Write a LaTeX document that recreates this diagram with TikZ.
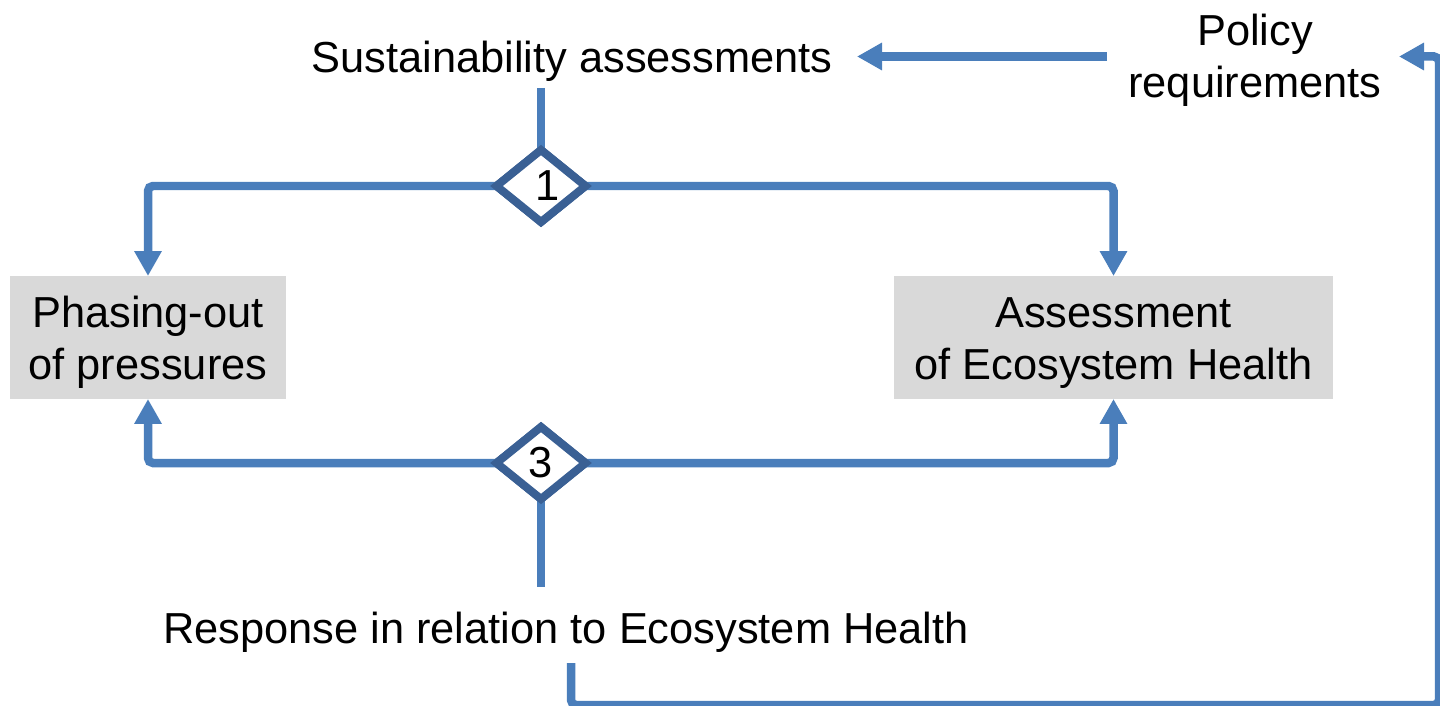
\documentclass[tikz,border=0pt]{standalone}
\usepackage{fontspec}
\setmainfont{Liberation Sans}
\usetikzlibrary{arrows.meta,shapes.geometric}
\definecolor{lineblue}{HTML}{4A7EBB}
\definecolor{darkblue}{HTML}{3A6094}
\definecolor{boxgray}{HTML}{D9D9D9}
\begin{document}
\begin{tikzpicture}[x=0.02cm,y=-0.02cm,
  lbl/.style={font=\fontsize{24.7pt}{29.6pt}\selectfont, inner sep=0pt, outer sep=0pt, align=center, text=black},
  graybox/.style={lbl, fill=boxgray, minimum height=2.46cm},
  dia/.style={lbl, diamond, draw=darkblue, line width=0.16cm, fill=white, minimum width=1.78cm, minimum height=1.44cm},
  conn/.style={draw=lineblue, line width=0.17cm, rounded corners=0.1cm},
  arr/.style={conn, -{Triangle[width=0.52cm,length=0.5cm]}}]
\useasboundingbox (0,0) rectangle (1440,706);
\clip (0,0) rectangle (1440,706);

% text labels
\node[lbl, anchor=base] (sust) at (572,73) {Sustainability assessments};
\node[lbl] (policy) at (1255,60.5) {Policy\\requirements};
\node[lbl, anchor=base] (resp) at (566,643) {Response in relation to Ecosystem Health};

% boxes
\node[graybox, minimum width=5.52cm] (phase) at (148,337.5) {\rule{0pt}{0.834cm}Phasing-out\\of pressures};
\node[graybox, minimum width=8.78cm] (assess) at (1113.5,337.5) {\rule{0pt}{0.834cm}Assessment\\of Ecosystem Health};

% diamonds
\node[dia] (d1) at (541,186) {\hspace{0.26cm}\raisebox{-0.08cm}{1}};
\node[dia] (d3) at (541,463) {3};

% free ends
\coordinate (s1) at (541,88);
\coordinate (r1) at (541,587);
\coordinate (r2) at (571,663);
\coordinate (c1) at (1439,705);
\coordinate (pin) at (1399,56.5);
\coordinate (p1) at (1107,56.5);
\coordinate (s2) at (857,56.5);

% connectors
\draw[arr] (p1) -- (s2);
\draw[conn] (s1) -- (d1.north);
\draw[arr] (d1.west) -| (phase.north);
\draw[arr] (d1.east) -| (assess.north);
\draw[arr] (d3.west) -| (phase.south);
\draw[arr] (d3.east) -| (assess.south);
\draw[conn] (d3.south) -- (r1);
\draw[arr] (r2) |- (c1) |- (pin);

% redraw diamonds on top of the connector ends
\node[dia] at (d1) {\hspace{0.26cm}\raisebox{-0.08cm}{1}};
\node[dia] at (d3) {3};
\end{tikzpicture}
\end{document}
